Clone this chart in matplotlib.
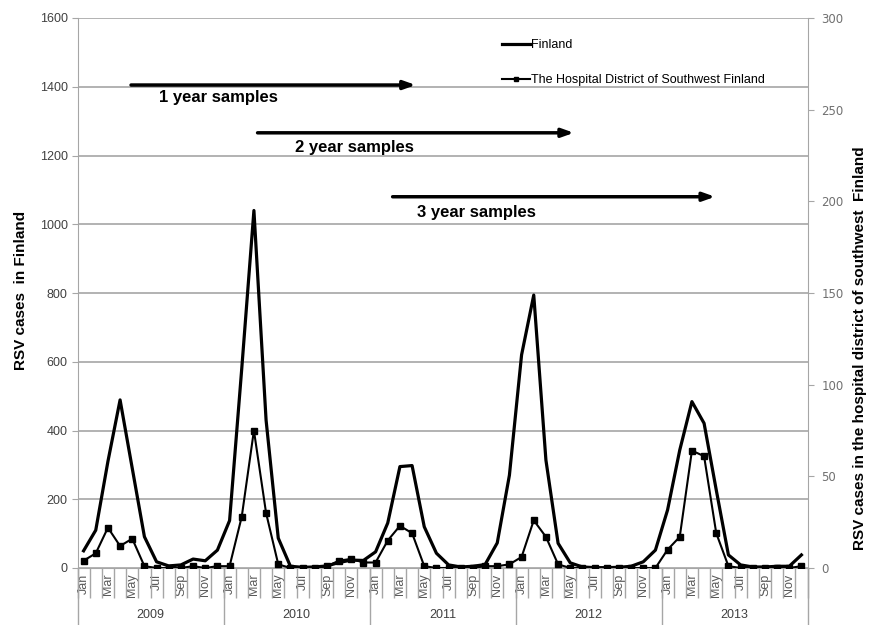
import matplotlib
matplotlib.use('Agg')
import matplotlib.pyplot as plt
import matplotlib.transforms as mtransforms
import numpy as np

plt.rcParams['font.family'] = ['Liberation Sans', 'DejaVu Sans']

# monthly RSV cases 2009-2013
years = ['2009', '2010', '2011', '2012', '2013']
months = ['Jan', 'Feb', 'Mar', 'Apr', 'May', 'Jun',
          'Jul', 'Aug', 'Sep', 'Oct', 'Nov', 'Dec']

finland = [50, 110, 310, 489, 290, 91, 18, 6, 9, 26, 21, 52,
           138, 580, 1040, 430, 87, 5, 2, 3, 6, 16, 23, 22,
           47, 131, 295, 298, 120, 43, 9, 3, 5, 10, 73, 270,
           620, 794, 314, 72, 15, 3, 1, 1, 2, 5, 18, 52,
           169, 343, 484, 421, 227, 38, 9, 3, 3, 5, 5, 38]

hospital = [4, 8, 22, 12, 16, 1, 0, 0, 0, 1, 0, 1,
            1, 28, 75, 30, 2, 0, 0, 0, 1, 4, 5, 3,
            3, 15, 23, 19, 1, 0, 0, 0, 0, 1, 1, 2,
            6, 26, 17, 2, 0, 0, 0, 0, 0, 0, 0, 0,
            10, 17, 64, 61, 19, 1, 0, 0, 0, 0, 0, 1]

arrow_labels = ['1 year samples', '2 year samples', '3 year samples']

grey = '#a6a6a6'

fig = plt.figure(figsize=(8.71, 6.25), dpi=100)
ax = fig.add_axes([77.5 / 871, 1 - 568 / 625, 730 / 871, 550 / 625])

x = np.arange(len(finland))
ax.set_xlim(-0.5, len(finland) - 0.5)
ax.set_ylim(0, 1600)
ax.set_yticks(range(0, 1601, 200))
ax.grid(axis='y', color=grey, lw=1.2)
ax.set_axisbelow(True)
for s in ['top', 'right']:
    ax.spines[s].set_visible(False)
ax.spines['left'].set_color(grey)
ax.spines['bottom'].set_color(grey)

l1, = ax.plot(x, finland, color='black', lw=2.3, label='Finland', zorder=3)

ax2 = ax.twinx()
ax2.set_ylim(0, 300)
ax2.set_yticks(range(0, 301, 50))
l2, = ax2.plot(x, hospital, color='black', lw=1.5, marker='s', ms=5,
               label='The Hospital District of Southwest Finland')
for s in ['top', 'left', 'bottom']:
    ax2.spines[s].set_visible(False)
ax2.spines['right'].set_color(grey)

# left axis ticks
ax.tick_params(axis='y', direction='out', length=4, color=grey,
               labelsize=9, labelcolor='#404040', pad=3)
ax2.tick_params(axis='y', direction='out', length=4, color=grey,
                labelsize=8.5, labelcolor='#707070', pad=6)
for t in ax2.get_yticklabels():
    t.set_fontfamily('DejaVu Sans')

# month category axis
labels = [months[i % 12] if i % 2 == 0 else '' for i in x]
ax.set_xticks(x)
ax.set_xticklabels(labels, rotation=90, fontsize=9, color='#595959')
ax.set_xticks(np.arange(-0.5, len(x), 1), minor=True)
ax.tick_params(axis='x', which='major', length=0, pad=4)
ax.tick_params(axis='x', which='minor', length=21.5, color=grey, width=1)

trans = mtransforms.blended_transform_factory(ax.transData, ax.transAxes)
for k, yr in enumerate(years):
    b = k * 12 - 0.5
    ax.plot([b, b], [0, -0.11], transform=trans, clip_on=False, color=grey, lw=1)
    ax.text(k * 12 + 5.5, -0.085, yr, transform=trans, ha='center', va='center',
            fontsize=9, color='#404040')
ax.plot([59.5, 59.5], [0, -0.11], transform=trans, clip_on=False, color=grey, lw=1)

# axis titles
ax.set_ylabel('RSV cases  in Finland', fontsize=11, fontweight='bold')
ax.yaxis.set_label_coords(-0.068, 0.505)
ax2.set_ylabel('RSV cases in the hospital district of southwest  Finland',
               fontsize=11, fontweight='bold')
ax2.yaxis.set_label_coords(1.062, 0.40)

# sample-window arrows
arrows = [(3.9, 27.3, 1405), (14.3, 40.3, 1266), (25.4, 51.9, 1080)]
text_pos = [(6.2, 1370), (17.4, 1222), (27.4, 1033)]
for (x0, x1, yy), (tx, ty), lab in zip(arrows, text_pos, arrow_labels):
    ax.annotate('', xy=(x1, yy), xytext=(x0, yy),
                arrowprops=dict(arrowstyle='-|>,head_length=0.7,head_width=0.25',
                                lw=2.5, color='black', shrinkA=0, shrinkB=0))
    ax.text(tx, ty, lab, fontsize=12, fontweight='bold', va='center', ha='left')

leg = ax2.legend([l1, l2], [l1.get_label(), l2.get_label()], loc='upper left',
                 bbox_to_anchor=(0.582, 0.962), frameon=False, fontsize=9,
                 handlelength=2.2, handletextpad=0.1, labelspacing=1.85,
                 borderaxespad=0, borderpad=0, markerscale=0.6)

fig.savefig('out.png', dpi=100)
